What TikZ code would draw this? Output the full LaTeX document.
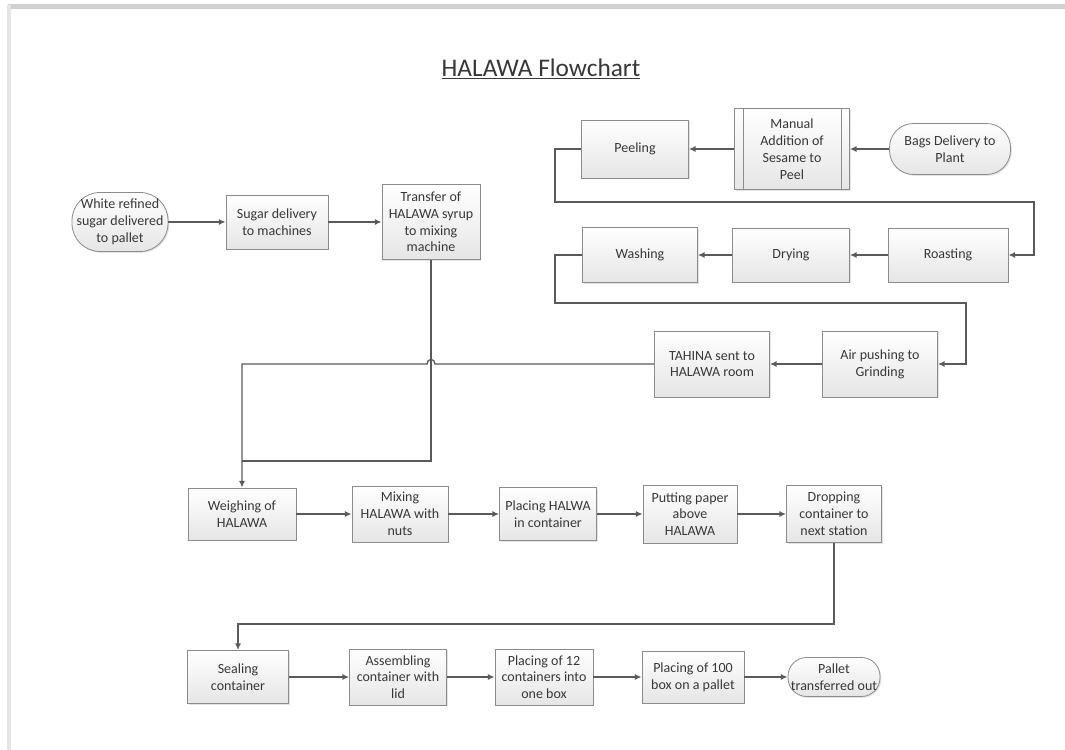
\documentclass[tikz,border=0pt]{standalone}
\usepackage{fontspec}
\setmainfont{Carlito}
\usetikzlibrary{arrows.meta,shadows}
\definecolor{linec}{HTML}{5A5A5A}
\definecolor{boxc}{HTML}{8C8C8C}
\definecolor{txtc}{HTML}{383838}
\tikzset{
  wh/.style 2 args={minimum width=#1*0.75pt, minimum height=#2*0.75pt},
  proc/.style={draw=boxc, line width=0.6pt, top color=white, bottom color=black!10,
    drop shadow={shadow xshift=1pt, shadow yshift=-1pt, opacity=0.22},
    align=center, inner sep=1pt, font=\fontsize{10.5}{12.6}\selectfont, text=txtc},
  termbox/.style={proc, rounded corners=#1},
  conn/.style={draw=linec, line width=1pt},
  arr/.style={conn, -{Latex[length=5pt,width=4.5pt]}},
}
\begin{document}
\begin{tikzpicture}[x=0.75pt, y=-0.75pt]
\useasboundingbox (0,0) rectangle (1065,750);
\fill[white] (0,0) rectangle (1065,750);
% page frame
\fill[black!18] (8,4) rectangle (1065,9);
\fill[black!10] (7,5) rectangle (11,750);

\node[font=\fontsize{19}{22}\selectfont, text=txtc] (title) at (541,69) {\underline{HALAWA Flowchart}};

% left row
\node[termbox=21pt, wh={96}{59}] (white) at (120,222) {White refined\\sugar delivered\\to pallet};
\node[proc, wh={102}{54}] (sugar) at (277,222) {Sugar delivery\\to machines};
\node[proc, wh={98}{75}] (transfer) at (431,222) {Transfer of\\HALAWA syrup\\to mixing\\machine};

% top right row
\node[proc, wh={107}{58}] (peel) at (635,149) {Peeling};
\node[proc, wh={115}{81}] (manual) at (792,149) {Manual\\Addition of\\Sesame to\\Peel};
\draw[draw=boxc, line width=0.6pt] ([xshift=6.75pt]manual.north west) -- ([xshift=6.75pt]manual.south west);
\draw[draw=boxc, line width=0.6pt] ([xshift=-6.75pt]manual.north east) -- ([xshift=-6.75pt]manual.south east);
\node[termbox=18pt, wh={121}{51}] (bags) at (950,149) {Bags Delivery to\\Plant};

% second right row
\node[proc, wh={120}{54}] (roast) at (948,255) {Roasting};
\node[proc, wh={117}{54}] (dry) at (791,255) {Drying};
\node[proc, wh={115}{55}] (wash) at (640,255) {Washing};

% third right row
\node[proc, wh={115}{66}] (air) at (880,364) {Air pushing to\\Grinding};
\node[proc, wh={115}{66}] (tahina) at (712,364) {TAHINA sent to\\HALAWA room};

% row 4
\node[proc, wh={108}{52}] (weigh) at (242,514) {Weighing of\\HALAWA};
\node[proc, wh={96}{56}] (mix) at (400,514) {Mixing\\HALAWA with\\nuts};
\node[proc, wh={97}{53}] (place) at (548,514) {Placing HALWA\\in container};
\node[proc, wh={94}{58}] (paper) at (690,514) {Putting paper\\above\\HALAWA};
\node[proc, wh={95}{57}] (drop) at (834,514) {Dropping\\container to\\next station};

% row 5
\node[proc, wh={101}{53}] (seal) at (238,677) {Sealing\\container};
\node[proc, wh={97}{56}] (assem) at (398,677) {Assembling\\container with\\lid};
\node[proc, wh={98}{56}] (twelve) at (544,677) {Placing of 12\\containers into\\one box};
\node[proc, wh={102}{52}] (hundred) at (693,677) {Placing of 100\\box on a pallet};
\node[termbox=14pt, wh={92}{39}] (pallet) at (834,677) {Pallet\\transferred out};

% connectors
\draw[arr] (white.east) -- (sugar.west);
\draw[arr] (sugar.east) -- (transfer.west);
\draw[arr] (bags.west) -- (manual.east);
\draw[arr] (manual.west) -- (peel.east);
\draw[arr] (peel.west) -- (555,149) -- (555,202) -- (1034,202) |- (roast.east);
\draw[arr] (roast.west) -- (dry.east);
\draw[arr] (dry.west) -- (wash.east);
\draw[arr] (wash.west) -- (555,255) -- (555,303) -- (966,303) |- (air.east);
\draw[arr] (air.west) -- (tahina.east);
\draw[arr] (tahina.west) -- (435,364) .. controls (435,358) and (427,358) .. (427,364) -- (242,364) -- (weigh.north);
\draw[conn] (transfer.south) -- (431,461) -- (242,461);
\draw[arr] (weigh.east) -- (mix.west);
\draw[arr] (mix.east) -- (place.west);
\draw[arr] (place.east) -- (paper.west);
\draw[arr] (paper.east) -- (drop.west);
\draw[arr] (drop.south) -- (834,624) -| (seal.north);
\draw[arr] (seal.east) -- (assem.west);
\draw[arr] (assem.east) -- (twelve.west);
\draw[arr] (twelve.east) -- (hundred.west);
\draw[arr] (hundred.east) -- (pallet.west);
\end{tikzpicture}
\end{document}
